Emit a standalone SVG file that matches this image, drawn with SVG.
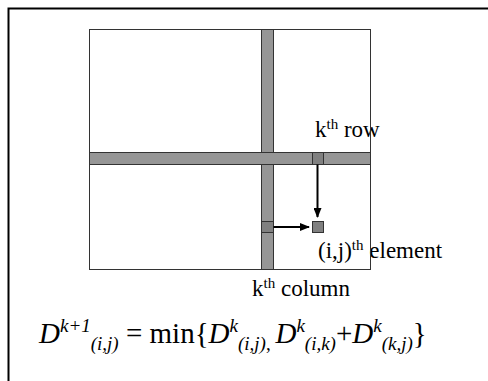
<svg xmlns="http://www.w3.org/2000/svg" width="488" height="381" viewBox="0 0 488 381">
<style>
text, tspan{font-family:"Liberation Serif", serif;fill:#000}
.lbl{font-size:23px}
.sup{font-size:15px}
.bar{fill:#969696;stroke:#333;stroke-width:1}
.cell{fill:#808080;stroke:#333;stroke-width:1}
.f{font-size:29px}
.fi{font-style:italic}
.fs{font-size:19px;font-style:italic}
</style>
<defs>
<marker id="ah" markerWidth="10" markerHeight="8" refX="9" refY="4" orient="auto" markerUnits="userSpaceOnUse">
<path d="M0,0 L10,4 L0,8 z" fill="#000"/>
</marker>
</defs>
<rect width="488" height="381" fill="#fff"/>
<path d="M8.5,381 V8.5 H488" fill="none" stroke="#000" stroke-width="2"/>
<g id="matrix">
<rect x="89.5" y="29.5" width="281" height="240" fill="#fff"/>
</g>
<g id="kcolumn">
<rect class="bar" x="261.5" y="29.5" width="12" height="240"/>
</g>
<g id="krow">
<rect class="bar" x="89.5" y="152.5" width="281" height="12"/>
</g>
<g id="rowcell"><rect class="cell" x="312.5" y="152.5" width="11" height="12"/></g>
<g id="colcell"><rect class="cell" x="261.5" y="221.5" width="12" height="11"/></g>
<g id="element"><rect class="cell" x="312.5" y="221.5" width="11" height="11"/></g>
<g id="connectors" stroke="#000" stroke-width="2" fill="none">
<line x1="317.5" y1="164.5" x2="317.5" y2="217" marker-end="url(#ah)"/>
<line x1="273.5" y1="227" x2="309" y2="227" marker-end="url(#ah)"/>
</g>
<g id="labels">
<text style="font-family:'Liberation Serif', serif" class="lbl" x="315" y="137">k<tspan class="sup" dy="-8">th</tspan><tspan dy="8"> row</tspan></text>
<text style="font-family:'Liberation Serif', serif" class="lbl" x="318" y="258">(i,j)<tspan class="sup" dy="-8">th</tspan><tspan dy="8"> element</tspan></text>
<text style="font-family:'Liberation Serif', serif" class="lbl" x="252" y="296">k<tspan class="sup" dy="-8">th</tspan><tspan dy="8"> column</tspan></text>
</g>
<rect x="89.5" y="29.5" width="281" height="240" fill="none" stroke="#333" stroke-width="1"/>
<g id="formula">
<text style="font-family:'Liberation Serif', serif" class="f" x="39" y="343"><tspan class="fi">D</tspan><tspan class="fs" dy="-11">k+1</tspan><tspan class="fs" dy="18">(i,j)</tspan><tspan dy="-7"> = min{</tspan><tspan class="fi">D</tspan><tspan class="fs" dy="-11">k</tspan><tspan class="fs" dy="18">(i,j)</tspan><tspan class="fs" style="font-style:normal">, </tspan><tspan class="fi" dy="-7">D</tspan><tspan class="fs" dy="-11">k</tspan><tspan class="fs" dy="18">(i,k)</tspan><tspan dy="-7">+</tspan><tspan class="fi">D</tspan><tspan class="fs" dy="-11">k</tspan><tspan class="fs" dy="18">(k,j)</tspan><tspan dy="-7">}</tspan></text>
</g>
</svg>
